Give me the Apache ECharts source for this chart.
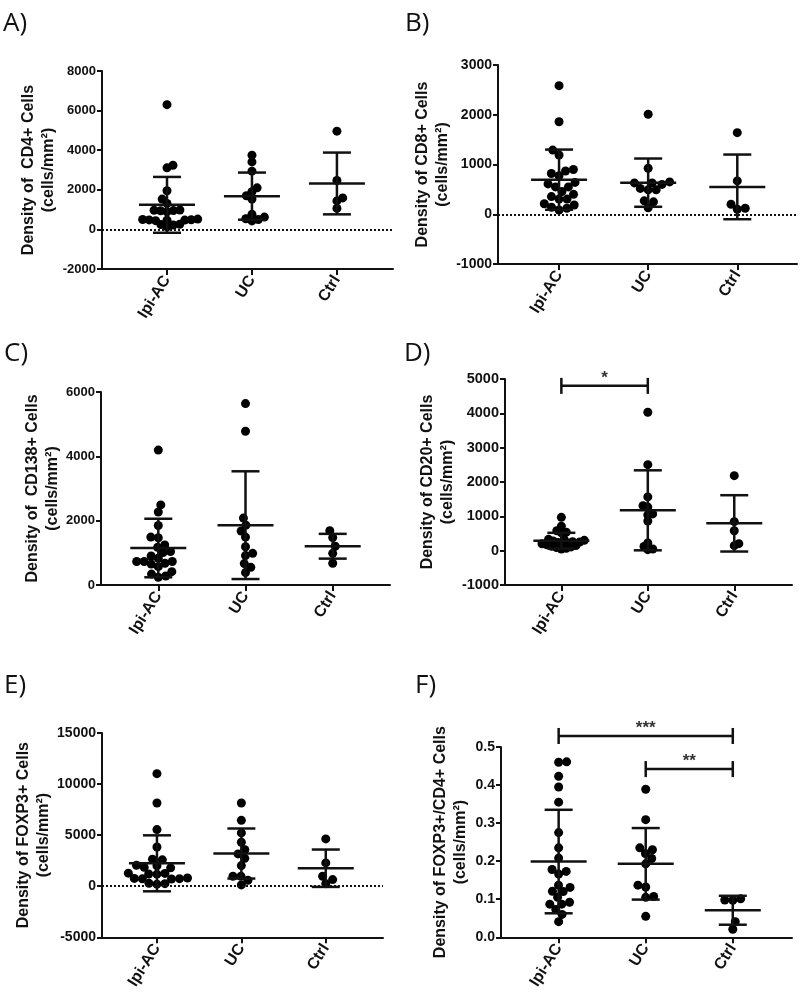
<!DOCTYPE html>
<html><head><meta charset="utf-8">
<script src="https://cdn.jsdelivr.net/npm/echarts@6/dist/echarts.min.js"></script>
<style>html,body{margin:0;padding:0;background:#fff}#c{width:800px;height:992px}</style>
</head><body><div id="c"></div>
<script>
// ---------- DATA ----------
const categories = ['Ipi-AC', 'UC', 'Ctrl'];

// A) CD4+
const cd4IpiAC = [6300,3240,3110,1950,1530,1310,980,970,950,940,890,520,500,490,480,470,460,440,260,250,220,130];
const cd4UC = [3750,3410,2940,2100,1900,1700,1530,760,620,540,500,430];
const cd4Ctrl = [4960,2470,1590,1440,1060];
const cd4Mean = [1240,1680,2320];
const cd4SD = [1410,1190,1560];
const cd4Ticks = [-2000, 8000, 2000];

// B) CD8+
const cd8IpiAC = [2585,1860,1290,1190,900,870,820,775,640,610,550,550,455,400,355,305,305,210,185,140,120,85];
const cd8UC = [2010,925,650,630,630,600,520,490,490,270,250,130];
const cd8Ctrl = [1640,670,200,120,100];
const cd8Mean = [695,635,550];
const cd8SD = [605,485,650];
const cd8Ticks = [-1000, 3000, 1000];

// C) CD138+
const cd138IpiAC = [4195,2490,2270,1850,1490,1470,1245,1170,1040,1010,900,830,730,730,730,675,650,570,415,340,280,240];
const cd138UC = [5640,4780,2080,1860,1680,1490,1190,985,915,665,550,385];
const cd138Ctrl = [1690,1475,1205,985,675];
const cd138Mean = [1150,1860,1205];
const cd138SD = [910,1675,385];
const cd138Ticks = [0, 6000, 2000];

// D) CD20+
const cd20IpiAC = [970,710,580,540,520,330,330,300,280,260,250,240,220,200,190,170,150,130,110,90,70,50];
const cd20UC = [4030,2505,1565,1310,1270,1070,1040,865,225,125,50,30];
const cd20Ctrl = [2185,845,580,205,145];
const cd20Mean = [290,1175,795];
const cd20SD = [230,1165,820];
const cd20Ticks = [-1000, 5000, 1000];
const cd20Brackets = [[1, 2, 4800]];
const cd20Stars = ['*'];

// E) FOXP3+
const foxp3IpiAC = [11020,8150,5540,3840,2650,2580,2050,2000,1850,1800,1280,1250,1200,1180,800,760,740,720,700,280,250,200];
const foxp3UC = [8150,6450,5220,4300,3580,3160,2730,2020,970,970,580,130];
const foxp3Ctrl = [4630,2280,970,650,250];
const foxp3Mean = [2240,3200,1760];
const foxp3SD = [2740,2450,1830];
const foxp3Ticks = [-5000, 15000, 5000];

// F) FOXP3+/CD4+
const ratioIpiAC = [0.461,0.460,0.423,0.395,0.355,0.275,0.235,0.208,0.178,0.173,0.166,0.137,0.131,0.121,0.120,0.105,0.092,0.087,0.087,0.073,0.060,0.041];
const ratioUC = [0.389,0.309,0.235,0.230,0.220,0.207,0.193,0.137,0.132,0.107,0.105,0.055];
const ratioCtrl = [0.101,0.098,0.097,0.041,0.021];
const ratioMean = [0.199,0.193,0.071];
const ratioSD = [0.136,0.094,0.038];
const ratioTicks = [0, 0.5, 0.1];
const ratioBrackets = [[1, 3, 0.529], [2, 3, 0.442]];
const ratioStars = ['***', '**'];

// ---------- LAYOUT / STYLE ----------
const INK = '#111';
const FONT = 'Liberation Sans';
const DOT = 9;

const panels = [
  {letter:'A)', lp:[3,11], name:'Density of  CD4+ Cells\n(cells/mm²)', groups:[cd4IpiAC,cd4UC,cd4Ctrl], mean:cd4Mean, sd:cd4SD, ticks:cd4Ticks, zero:true, br:[], stars:[], gap:6.5, fs:13,
   grid:{left:102, top:71, width:291, height:198}, xr:[0.235,3.66]},
  {letter:'B)', lp:[405,11], name:'Density of CD8+ Cells\n(cells/mm²)', groups:[cd8IpiAC,cd8UC,cd8Ctrl], mean:cd8Mean, sd:cd8SD, ticks:cd8Ticks, zero:true, br:[], stars:[], gap:8, fs:14,
   grid:{left:498, top:65, width:299, height:199}, xr:[0.315,3.67]},
  {letter:'C)', lp:[4,341], name:'Density of  CD138+ Cells\n(cells/mm²)', groups:[cd138IpiAC,cd138UC,cd138Ctrl], mean:cd138Mean, sd:cd138SD, ticks:cd138Ticks, zero:false, br:[], stars:[], gap:7.5, fs:13,
   grid:{left:101, top:392, width:289, height:193}, xr:[0.343,3.657]},
  {letter:'D)', lp:[404,341], name:'Density of CD20+ Cells\n(cells/mm²)', groups:[cd20IpiAC,cd20UC,cd20Ctrl], mean:cd20Mean, sd:cd20SD, ticks:cd20Ticks, zero:false, br:cd20Brackets, stars:cd20Stars, gap:5, fs:14.5,
   grid:{left:505, top:379, width:287, height:206}, xr:[0.348,3.668]},
  {letter:'E)', lp:[4,673], name:'Density of FOXP3+ Cells\n(cells/mm²)', groups:[foxp3IpiAC,foxp3UC,foxp3Ctrl], mean:foxp3Mean, sd:foxp3SD, ticks:foxp3Ticks, zero:true, br:[], stars:[], gap:8, fs:14,
   grid:{left:102, top:733, width:281, height:205}, xr:[0.349,3.678]},
  {letter:'F)', lp:[415,673], name:'Density of FOXP3+/CD4+ Cells\n(cells/mm²)', groups:[ratioIpiAC,ratioUC,ratioCtrl], mean:ratioMean, sd:ratioSD, ticks:ratioTicks, zero:false, br:ratioBrackets, stars:ratioStars, dec:1, gap:8, fs:14,
   grid:{left:501, top:747, width:291, height:196}, xr:[0.338,3.68]}
];

const chart = echarts.init(document.getElementById('c'), null, {renderer:'canvas'});

function lineEl(x1,y1,x2,y2){
  return {type:'line', shape:{x1,y1,x2,y2}, style:{stroke:INK, lineWidth:2.5}};
}

function buildOption(scatterData){
  const grid=[], xAxis=[], yAxis=[], series=[], graphic=[];
  panels.forEach((p,i)=>{
    grid.push(Object.assign({containLabel:false}, p.grid));
    xAxis.push({
      gridIndex:i, type:'value', min:p.xr[0], max:p.xr[1],
      axisLine:{show:true, onZero:false, lineStyle:{color:INK, width:2}},
      axisTick:{show:true, customValues:[1,2,3], length:6, lineStyle:{color:INK, width:2}},
      axisLabel:{show:true, customValues:[1,2,3], rotate:58, margin:8, fontFamily:FONT, fontWeight:'bold', fontSize:16, color:INK,
        formatter:v=>categories[Math.round(v)-1]},
      splitLine:{show:false}
    });
    yAxis.push({
      gridIndex:i, type:'value', min:p.ticks[0], max:p.ticks[1], interval:p.ticks[2],
      axisLine:{show:true, onZero:false, lineStyle:{color:INK, width:2}},
      axisTick:{show:true, length:5, lineStyle:{color:INK, width:2}},
      axisLabel:{fontFamily:FONT, fontWeight:'bold', fontSize:p.fs, color:INK, margin:6,
        formatter:v=> p.dec ? v.toFixed(p.dec) : String(v)},
      splitLine:{show:false},
      name:p.name, nameLocation:'middle', nameGap:30,
      nameTextStyle:{fontFamily:FONT, fontWeight:'bold', fontSize:16, lineHeight:20, color:INK}
    });
    const sc = {
      type:'scatter', xAxisIndex:i, yAxisIndex:i, symbolSize:DOT, symbol:'circle',
      itemStyle:{color:'#000', opacity:1}, data:scatterData[i], z:3, silent:true
    };
    if(p.zero){
      sc.markLine = {silent:true, symbol:'none', label:{show:false},
        lineStyle:{type:'dotted', color:INK, width:2, opacity:1}, data:[{yAxis:0}], animation:false};
    }
    series.push(sc);
    series.push({
      type:'custom', xAxisIndex:i, yAxisIndex:i, z:4, silent:true,
      data:p.mean.map((m,k)=>[k+1, m, p.sd[k]]), encode:{x:0, y:1},
      renderItem:(params, api)=>{
        const x=api.value(0), m=api.value(1), s=api.value(2);
        const c=api.coord([x,m]), t=api.coord([x,m+s]), b=api.coord([x,m-s]);
        return {type:'group', children:[
          lineEl(c[0]-28,c[1],c[0]+28,c[1]),
          lineEl(c[0],t[1],c[0],b[1]),
          lineEl(c[0]-14,t[1],c[0]+14,t[1]),
          lineEl(c[0]-14,b[1],c[0]+14,b[1])
        ]};
      }
    });
    if(p.br.length){
      series.push({
        type:'custom', xAxisIndex:i, yAxisIndex:i, z:4, silent:true, clip:false,
        data:p.br, encode:{x:[0,1], y:2},
        renderItem:(params, api)=>{
          const a=api.coord([api.value(0), api.value(2)]);
          const b=api.coord([api.value(1), api.value(2)]);
          return {type:'group', children:[
            lineEl(a[0],a[1],b[0],b[1]),
            lineEl(a[0],a[1]-8,a[0],a[1]+8),
            lineEl(b[0],b[1]-8,b[0],b[1]+8),
            {type:'text', x:(a[0]+b[0])/2, y:a[1]-8, style:{text:p.stars[params.dataIndex], fill:'#333',
              font:'bold 17px '+FONT, textAlign:'center', textVerticalAlign:'middle'}}
          ]};
        }
      });
    }
    graphic.push({type:'text', left:p.lp[0], top:p.lp[1],
      style:{text:p.letter, font:'26px "Open Sans"', fill:INK}});
  });
  return {animation:false, backgroundColor:'#fff', grid, xAxis, yAxis, series, graphic};
}

// initial placement at the category centres
const initial = panels.map(p=>{
  const arr=[];
  p.groups.forEach((g,k)=>g.forEach(v=>arr.push([k+1, v])));
  return arr;
});
chart.setOption(buildOption(initial));

// beeswarm spreading in pixel space (computed through the axes' scales)
function swarm(ys, d){
  const idx = ys.map((y,i)=>i).sort((a,b)=>ys[b]-ys[a]);
  const placed=[]; const out=new Array(ys.length).fill(0);
  let lastSide = 1;
  idx.forEach(i=>{
    const y=ys[i];
    const near = placed.filter(q=>Math.abs(q.y-y)<d);
    const cands=[0];
    near.forEach(q=>{const w=Math.sqrt(d*d-(q.y-y)*(q.y-y)); cands.push(q.x-w-0.01, q.x+w+0.01);});
    const ok = cands.filter(c=>near.every(q=>(q.x-c)*(q.x-c)+(q.y-y)*(q.y-y) >= d*d-0.5));
    ok.sort((a,b)=>{const da=Math.abs(a)-Math.abs(b); if(Math.abs(da)>0.3) return da; return (b*lastSide)-(a*lastSide);});
    let x = ok[0];
    if(x!==0){ lastSide = x>0 ? -1 : 1; }
    placed.push({x,y}); out[i]=x;
  });
  return out;
}

const spread = panels.map((p,i)=>{
  const arr=[];
  const p1 = chart.convertToPixel({gridIndex:i},[1,0]);
  const p2 = chart.convertToPixel({gridIndex:i},[2,0]);
  const pxPerUnit = p2[0]-p1[0];
  p.groups.forEach((g,k)=>{
    const ys = g.map(v=>chart.convertToPixel({gridIndex:i},[k+1,v])[1]);
    const offs = swarm(ys, p.gap);
    g.forEach((v,j)=>arr.push([k+1+offs[j]/pxPerUnit, v]));
  });
  return arr;
});
chart.setOption({series: buildOption(spread).series});
</script></body></html>
